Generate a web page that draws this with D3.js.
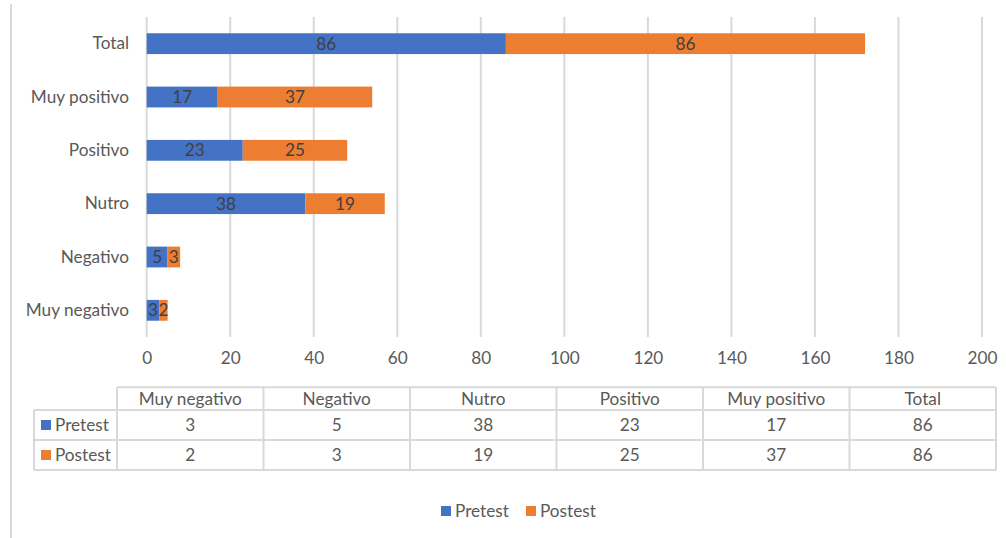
<!DOCTYPE html>
<html>
<head>
<meta charset="utf-8">
<script src="https://cdn.jsdelivr.net/npm/d3@7"></script>
<style>
  body { margin: 0; background: #fff; }
  text { font-family: Lato, "Open Sans", sans-serif; }
</style>
</head>
<body>
<div id="chart"></div>
<script>
// Data
var categories = ["Muy negativo", "Negativo", "Nutro", "Positivo", "Muy positivo", "Total"];
var pretest = [3, 5, 38, 23, 17, 86];
var postest = [2, 3, 19, 25, 37, 86];
var seriesNames = ["Pretest", "Postest"];
var xTicks = [0, 20, 40, 60, 80, 100, 120, 140, 160, 180, 200];

var colors = ["#4472C4", "#ED7D31"];
var textColor = "#595959";
var gridColor = "#d9d9d9";
var fs = 17.2;

var outerWidth = 1006;
var outerHeight = 538;

var svg = d3.select("#chart").append("svg")
	.attr("width", outerWidth)
	.attr("height", outerHeight);

// left border of the chart area
svg.append("line")
	.attr("x1", 11).attr("x2", 11)
	.attr("y1", 4).attr("y2", outerHeight)
	.attr("stroke", gridColor).attr("stroke-width", 2);

// Scales
var xScale = d3.scaleLinear().domain([0, 200]).range([146.7, 982]);
var yScale = d3.scaleBand()
	.domain(categories.slice().reverse())
	.range([17, 337])
	.paddingInner(0.61).paddingOuter(0.305);

// Gridlines
svg.append("g").selectAll("line").data(xTicks).enter().append("line")
	.attr("x1", function(d) { return xScale(d); })
	.attr("x2", function(d) { return xScale(d); })
	.attr("y1", 17).attr("y2", 337)
	.attr("stroke", gridColor).attr("stroke-width", 2);

// x axis tick labels
var xAxis = d3.axisBottom(xScale).tickValues(xTicks).tickSize(0).tickPadding(0);
var xAxisG = svg.append("g").attr("transform", "translate(0,352)").call(xAxis);
xAxisG.select(".domain").remove();
xAxisG.selectAll("text")
	.attr("font-size", fs).attr("fill", textColor)
	.attr("font-family", "Lato, sans-serif");

// y axis labels
var yAxis = d3.axisLeft(yScale).tickSize(0).tickPadding(0);
var yAxisG = svg.append("g").attr("transform", "translate(129,0)").call(yAxis);
yAxisG.select(".domain").remove();
yAxisG.selectAll("text")
	.attr("font-size", fs).attr("fill", textColor)
	.attr("font-family", "Lato, sans-serif");

// Stacked bars
var rows = categories.map(function(c, i) {
	return { cat: c, pre: pretest[i], post: postest[i] };
});
var segs = [];
rows.forEach(function(r) {
	segs.push({ cat: r.cat, x0: 0, x1: r.pre, v: r.pre, s: 0 });
	segs.push({ cat: r.cat, x0: r.pre, x1: r.pre + r.post, v: r.post, s: 1 });
});

var bars = svg.append("g");
bars.selectAll("rect").data(segs).enter().append("rect")
	.attr("x", function(d) { return xScale(d.x0); })
	.attr("width", function(d) { return xScale(d.x1) - xScale(d.x0); })
	.attr("y", function(d) { return yScale(d.cat); })
	.attr("height", yScale.bandwidth())
	.attr("fill", function(d) { return colors[d.s]; });

bars.selectAll("text").data(segs).enter().append("text")
	.attr("x", function(d) { return (xScale(d.x0) + xScale(d.x1)) / 2; })
	.attr("y", function(d) { return yScale(d.cat) + yScale.bandwidth() / 2; })
	.attr("dy", "0.35em")
	.attr("text-anchor", "middle")
	.attr("font-size", fs)
	.attr("fill", "#404040")
	.text(function(d) { return d.v; });

// Data table
var tblLeft = 34, colStart = 117, colEnd = 996;
var colW = (colEnd - colStart) / categories.length;
var rowY = [387.3, 410, 440, 470];
var tbl = svg.append("g");

// horizontal lines
tbl.append("line").attr("x1", colStart).attr("x2", colEnd).attr("y1", rowY[0]).attr("y2", rowY[0]);
[1, 2, 3].forEach(function(k) {
	tbl.append("line").attr("x1", tblLeft).attr("x2", colEnd).attr("y1", rowY[k]).attr("y2", rowY[k]);
});
// vertical lines
tbl.append("line").attr("x1", tblLeft).attr("x2", tblLeft).attr("y1", rowY[1]).attr("y2", rowY[3]);
d3.range(categories.length + 1).forEach(function(k) {
	tbl.append("line")
		.attr("x1", colStart + k * colW).attr("x2", colStart + k * colW)
		.attr("y1", rowY[0]).attr("y2", rowY[3]);
});
tbl.selectAll("line").attr("stroke", gridColor).attr("stroke-width", 2);

// header
tbl.selectAll("text.hdr").data(categories).enter().append("text")
	.attr("class", "hdr")
	.attr("x", function(d, i) { return colStart + colW * (i + 0.5); })
	.attr("y", (rowY[0] + rowY[1]) / 2)
	.attr("dy", "0.35em")
	.attr("text-anchor", "middle")
	.attr("font-size", fs).attr("fill", textColor)
	.text(function(d) { return d; });

[pretest, postest].forEach(function(vals, s) {
	var cy = (rowY[s + 1] + rowY[s + 2]) / 2;
	tbl.append("rect").attr("x", 41).attr("y", cy - 5).attr("width", 10).attr("height", 10).attr("fill", colors[s]);
	tbl.append("text").attr("x", 55).attr("y", cy).attr("dy", "0.35em")
		.attr("font-size", fs).attr("fill", textColor).text(seriesNames[s]);
	tbl.selectAll("text.v" + s).data(vals).enter().append("text")
		.attr("class", "v" + s)
		.attr("x", function(d, i) { return colStart + colW * (i + 0.5); })
		.attr("y", cy)
		.attr("dy", "0.35em")
		.attr("text-anchor", "middle")
		.attr("font-size", fs).attr("fill", textColor)
		.text(function(d) { return d; });
});

// Legend
var legX = [441, 526];
var legend = svg.append("g");
seriesNames.forEach(function(n, s) {
	legend.append("rect").attr("x", legX[s]).attr("y", 506).attr("width", 10).attr("height", 10).attr("fill", colors[s]);
	legend.append("text").attr("x", legX[s] + 14).attr("y", 511).attr("dy", "0.35em")
		.attr("font-size", fs).attr("fill", textColor).text(n);
});
</script>
</body>
</html>
